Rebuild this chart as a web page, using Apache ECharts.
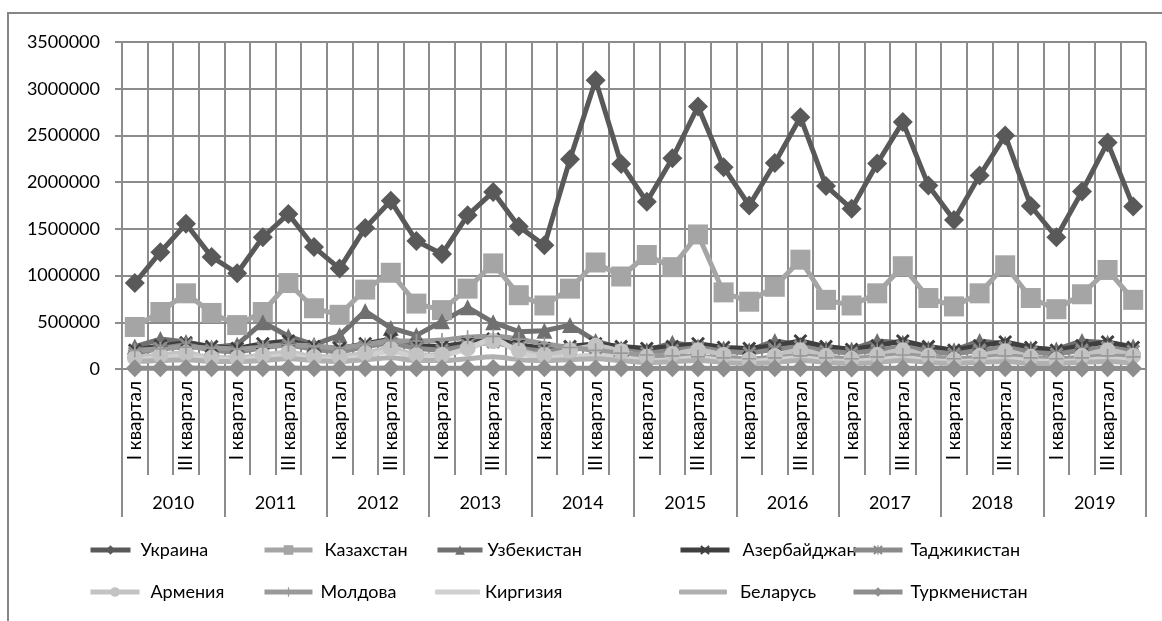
<!DOCTYPE html>
<html>
<head>
    <meta charset="UTF-8">
    <title>Квартальные данные по странам, 2010–2019</title>
    <style>
        html, body {
            margin: 0;
            padding: 0;
            width: 100%;
            height: 100%;
            overflow: hidden;
            background: #fff;
        }
        #main {
            width: 1162px;
            height: 621px;
        }
    </style>
    <script src="https://cdn.jsdelivr.net/npm/echarts@6/dist/echarts.min.js"></script>
</head>
<body>
    <div id="main"></div>

    <script>
        // Categories
        const quarters = ['I квартал', 'II квартал', 'III квартал', 'IV квартал'];
        const years = ['2010', '2011', '2012', '2013', '2014', '2015', '2016', '2017', '2018', '2019'];

        // Y axis ticks
        const yMax = 3500000;
        const yStep = 500000;

        // Series values, 4 quarters per year
        const ukraine = [
            920000, 1250000, 1555000, 1200000,
            1025000, 1410000, 1660000, 1305000,
            1075000, 1510000, 1800000, 1370000,
            1230000, 1645000, 1895000, 1525000,
            1325000, 2245000, 3090000, 2195000,
            1790000, 2255000, 2810000, 2160000,
            1750000, 2205000, 2695000, 1960000,
            1715000, 2200000, 2645000, 1965000,
            1595000, 2070000, 2500000, 1745000,
            1410000, 1900000, 2425000, 1740000
        ];
        const kazakhstan = [
            450000, 610000, 810000, 600000,
            470000, 610000, 920000, 650000,
            580000, 850000, 1030000, 700000,
            630000, 860000, 1130000, 790000,
            680000, 860000, 1140000, 990000,
            1220000, 1090000, 1440000, 820000,
            720000, 880000, 1170000, 740000,
            680000, 810000, 1100000, 760000,
            670000, 810000, 1110000, 760000,
            640000, 800000, 1060000, 740000
        ];
        const uzbekistan = [
            240000, 320000, 290000, 230000,
            260000, 500000, 350000, 260000,
            360000, 620000, 440000, 360000,
            510000, 660000, 500000, 400000,
            410000, 470000, 300000, 220000,
            200000, 280000, 240000, 220000,
            200000, 300000, 260000, 220000,
            210000, 300000, 280000, 220000,
            200000, 300000, 270000, 220000,
            210000, 300000, 280000, 240000
        ];
        const azerbaijan = [
            200000, 250000, 280000, 240000,
            220000, 270000, 300000, 240000,
            220000, 270000, 320000, 250000,
            240000, 280000, 320000, 260000,
            220000, 240000, 270000, 240000,
            220000, 240000, 270000, 230000,
            220000, 250000, 300000, 240000,
            210000, 250000, 300000, 240000,
            200000, 250000, 290000, 230000,
            200000, 250000, 290000, 230000
        ];
        const tajikistan = [
            170000, 220000, 260000, 200000,
            180000, 230000, 260000, 210000,
            180000, 240000, 280000, 220000,
            200000, 250000, 290000, 220000,
            190000, 210000, 230000, 200000,
            170000, 200000, 230000, 190000,
            170000, 210000, 240000, 190000,
            170000, 200000, 240000, 190000,
            160000, 200000, 230000, 180000,
            160000, 200000, 230000, 190000
        ];
        const armenia = [
            120000, 150000, 170000, 120000,
            120000, 150000, 180000, 130000,
            130000, 170000, 220000, 150000,
            150000, 220000, 300000, 200000,
            150000, 200000, 250000, 190000,
            130000, 160000, 200000, 150000,
            100000, 140000, 200000, 140000,
            110000, 150000, 200000, 140000,
            100000, 140000, 190000, 130000,
            100000, 140000, 200000, 140000
        ];
        const moldova = [
            200000, 215000, 235000, 225000,
            215000, 235000, 260000, 245000,
            230000, 260000, 300000, 300000,
            310000, 340000, 350000, 320000,
            270000, 230000, 200000, 170000,
            150000, 140000, 130000, 120000,
            110000, 120000, 140000, 120000,
            110000, 130000, 150000, 130000,
            110000, 120000, 140000, 120000,
            110000, 120000, 140000, 130000
        ];
        const kirgizia = [
            100000, 120000, 140000, 110000,
            100000, 120000, 150000, 110000,
            110000, 140000, 190000, 130000,
            140000, 220000, 320000, 180000,
            120000, 130000, 150000, 120000,
            90000, 100000, 120000, 90000,
            80000, 100000, 120000, 90000,
            80000, 100000, 120000, 90000,
            80000, 90000, 110000, 90000,
            80000, 90000, 110000, 90000
        ];
        const belarus = [
            80000, 90000, 100000, 80000,
            80000, 90000, 110000, 90000,
            80000, 100000, 120000, 90000,
            90000, 110000, 130000, 100000,
            90000, 100000, 110000, 90000,
            70000, 80000, 90000, 70000,
            60000, 70000, 90000, 70000,
            60000, 70000, 90000, 70000,
            60000, 70000, 80000, 60000,
            60000, 70000, 80000, 60000
        ];
        const turkmenistan = [
            8000, 9000, 10000, 8000,
            8000, 9000, 10000, 8000,
            8000, 9000, 10000, 8000,
            8000, 9000, 10000, 8000,
            7000, 8000, 9000, 7000,
            6000, 7000, 8000, 6000,
            6000, 7000, 8000, 6000,
            6000, 7000, 8000, 6000,
            5000, 6000, 7000, 5000,
            5000, 6000, 7000, 5000
        ];

        const FONT = 'Lato, "Open Sans", sans-serif';
        const GRID_COLOR = '#8c8c8c';

        // filled marker outlines for the cross-type symbols
        const SYM_X = 'path://M0,1.5 L1.5,0 L5,3.5 L8.5,0 L10,1.5 L6.5,5 L10,8.5 L8.5,10 L5,6.5 L1.5,10 L0,8.5 L3.5,5 Z';
        const SYM_STAR = 'path://M0,1.5 L1.5,0 L5,3.5 L8.5,0 L10,1.5 L6.5,5 L10,8.5 L8.5,10 L5,6.5 L1.5,10 L0,8.5 L3.5,5 Z M4.4,0 L5.6,0 L5.6,10 L4.4,10 Z';
        const SYM_PLUS = 'path://M4.4,0 L5.6,0 L5.6,10 L4.4,10 Z M0,4.4 L10,4.4 L10,5.6 L0,5.6 Z';

        const seriesDefs = [
            { name: 'Украина', data: ukraine, color: '#595959', symbol: 'diamond', size: 20 },
            { name: 'Казахстан', data: kazakhstan, color: '#a5a5a5', symbol: 'rect', size: 20 },
            { name: 'Узбекистан', data: uzbekistan, color: '#707070', symbol: 'triangle', size: 16 },
            { name: 'Азербайджан', data: azerbaijan, color: '#3f3f3f', symbol: SYM_X, size: 14 },
            { name: 'Таджикистан', data: tajikistan, color: '#8a8a8a', symbol: SYM_STAR, size: 14 },
            { name: 'Армения', data: armenia, color: '#c3c3c3', symbol: 'circle', size: 16, smooth: 0.3 },
            { name: 'Молдова', data: moldova, color: '#999999', symbol: SYM_PLUS, size: 14, smooth: 0.3 },
            { name: 'Киргизия', data: kirgizia, color: '#d0d0d0', symbol: 'none', size: 0, smooth: 0.3 },
            { name: 'Беларусь', data: belarus, color: '#b0b0b0', symbol: 'none', size: 0, smooth: 0.3 },
            { name: 'Туркменистан', data: turkmenistan, color: '#8e8e8e', symbol: 'diamond', size: 18 }
        ];

        // legend slots, two rows of five: [left, top, icon width, extra gap before text]
        const legendSlots = [
            [88, 541, 40, 5], [262, 541, 48, 7], [435, 541, 45, 0], [678, 541, 49, 8], [851, 541, 49, 3],
            [88, 583, 49, 6], [262, 583, 48, 3], [435, 583, 45, 0], [679, 583, 48, 8], [851, 583, 49, 3]
        ];

        function initializeChart() {
            const chart = echarts.init(document.getElementById('main'));

            const categories = [];
            years.forEach(() => quarters.forEach(q => categories.push(q)));

            const series = seriesDefs.map(s => ({
                name: s.name,
                type: 'line',
                data: s.data,
                xAxisIndex: 0,
                symbol: s.symbol,
                symbolSize: s.size,
                showSymbol: s.symbol !== 'none',
                showAllSymbol: true,
                smooth: s.smooth || false,
                lineStyle: { color: s.color, width: 5 },
                itemStyle: { color: s.color },
                emphasis: { disabled: true },
                animation: false
            }));

            const legends = seriesDefs.map((s, i) => {
                const plain = s.symbol === 'none';
                const slot = legendSlots[i];
                return {
                    data: plain ? [{ name: s.name, icon: 'roundRect' }] : [s.name],
                    left: slot[0],
                    top: slot[1],
                    padding: 0,
                    itemWidth: slot[2],
                    itemHeight: plain ? 5 : 12,
                    lineStyle: { width: 5 },
                    textStyle: {
                        fontFamily: FONT,
                        fontSize: 18,
                        color: '#000',
                        padding: [0, 0, 0, slot[3]]
                    },
                    selectedMode: false
                };
            });

            const option = {
                backgroundColor: '#fff',
                animation: false,
                graphic: [{
                    type: 'rect',
                    shape: { x: 8, y: 13, width: 1300, height: 800 },
                    style: { fill: 'none', stroke: '#868686', lineWidth: 2 },
                    silent: true
                }],
                grid: { left: 122, right: 16, top: 42, bottom: 252 },
                legend: legends,
                xAxis: [{
                    type: 'category',
                    data: categories,
                    boundaryGap: true,
                    axisLine: { show: true, lineStyle: { color: GRID_COLOR, width: 2 } },
                    axisTick: { show: true, interval: 0, length: 106, lineStyle: { color: GRID_COLOR, width: 2 } },
                    splitLine: { show: true, interval: 0, lineStyle: { color: GRID_COLOR, width: 2 } },
                    axisLabel: {
                        interval: 1,
                        rotate: 90,
                        margin: 12,
                        fontFamily: FONT,
                        fontSize: 19,
                        color: '#000'
                    }
                }, {
                    type: 'category',
                    data: years,
                    position: 'bottom',
                    boundaryGap: true,
                    axisLine: { show: false },
                    axisTick: { show: true, interval: 0, length: 148, lineStyle: { color: GRID_COLOR, width: 2 } },
                    splitLine: { show: false },
                    axisLabel: {
                        interval: 0,
                        margin: 125,
                        fontFamily: FONT,
                        fontSize: 18,
                        color: '#000'
                    }
                }],
                yAxis: {
                    type: 'value',
                    min: 0,
                    max: yMax,
                    interval: yStep,
                    axisLine: { show: true, lineStyle: { color: GRID_COLOR, width: 2 } },
                    axisTick: { show: true, length: 7, lineStyle: { color: GRID_COLOR, width: 2 } },
                    splitLine: { show: true, lineStyle: { color: GRID_COLOR, width: 2 } },
                    axisLabel: {
                        margin: 22,
                        fontFamily: FONT,
                        fontSize: 18,
                        color: '#000',
                        formatter: v => String(v)
                    }
                },
                series: series
            };

            chart.setOption(option);
        }

        if (typeof echarts !== 'undefined') {
            initializeChart();
        } else {
            console.error('ECharts is not loaded');
        }
    </script>
</body>
</html>
